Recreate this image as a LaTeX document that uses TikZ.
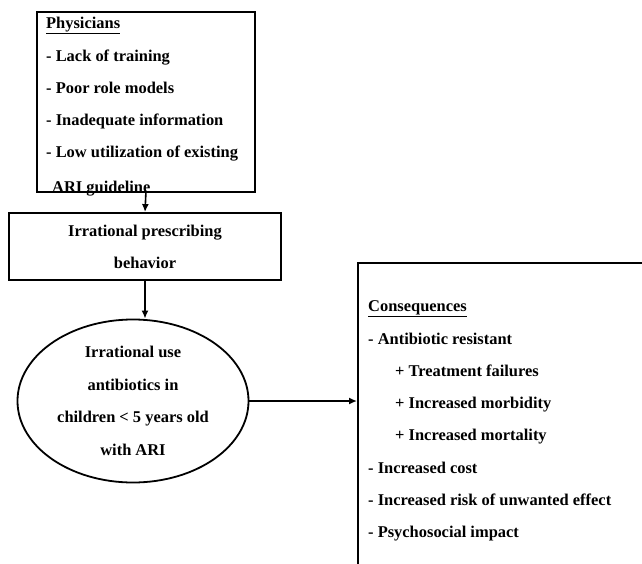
\documentclass[tikz,border=0pt]{standalone}
\usepackage{fontspec}
\setmainfont{Liberation Serif}
\usetikzlibrary{shapes.geometric,arrows.meta}
\tikzset{
  box/.style={draw, line width=1.8bp},
  txt/.style={anchor=west, inner sep=0pt, text height=11bp, text depth=3.5bp, font=\fontsize{16.5}{20}\selectfont\bfseries},
  link/.style={line width=1.6bp, -{Latex[length=8bp,width=7bp]}}
}
\newcommand\headline[1]{\underline{#1}}
\begin{document}
\begin{tikzpicture}[x=1bp,y=-1bp]
\useasboundingbox (0,0) rectangle (642,564);
\clip (0,0) rectangle (642,564);
\pgfmathsetmacro\gap{32.3}
\node[txt] (physhead) at (46,25) {\headline{Physicians}};
\foreach \line [count=\n] in {- Lack of training, - Poor role models, - Inadequate information, - Low utilization of existing}
  \node[txt] (phys\n) at (46,25+\gap*\n) {\line};
\node[txt] (phys5) at (52,189) {ARI guideline};
\node[box, minimum width=218bp, minimum height=180bp, anchor=north west] (phys) at (36,11) {};
\node[box, minimum width=272bp, minimum height=67bp, align=center, font=\fontsize{16.5}{32}\selectfont\bfseries] (presc) at (145,246.5) {Irrational prescribing\\behavior};
\node[box, ellipse, minimum width=231bp, minimum height=163bp, inner sep=0pt, align=center, font=\fontsize{16.5}{32.7}\selectfont\bfseries] (use) at (133,401) {Irrational use\\antibiotics in\\children < 5 years old\\with ARI};
\node[box, minimum width=320bp, minimum height=330bp, anchor=north west] (cons) at (357,262) {};
\node[txt] (conshead) at (368,308) {\headline{Consequences}};
\foreach \x/\line [count=\n] in {368/- Antibiotic resistant, 395/+ Treatment failures, 395/+ Increased morbidity, 395/+ Increased mortality, 368/- Increased cost, 368/- Increased risk of unwanted effect, 368/- Psychosocial impact}
  \node[txt] (cons\n) at (\x,308+\gap*\n) {\line};
\draw[link] (phys.south) -- (presc.north);
\draw[link] (presc.south) -- (presc.south |- use.north);
\draw[link] (use.east) -- (use.east -| cons.west);
\end{tikzpicture}
\end{document}
